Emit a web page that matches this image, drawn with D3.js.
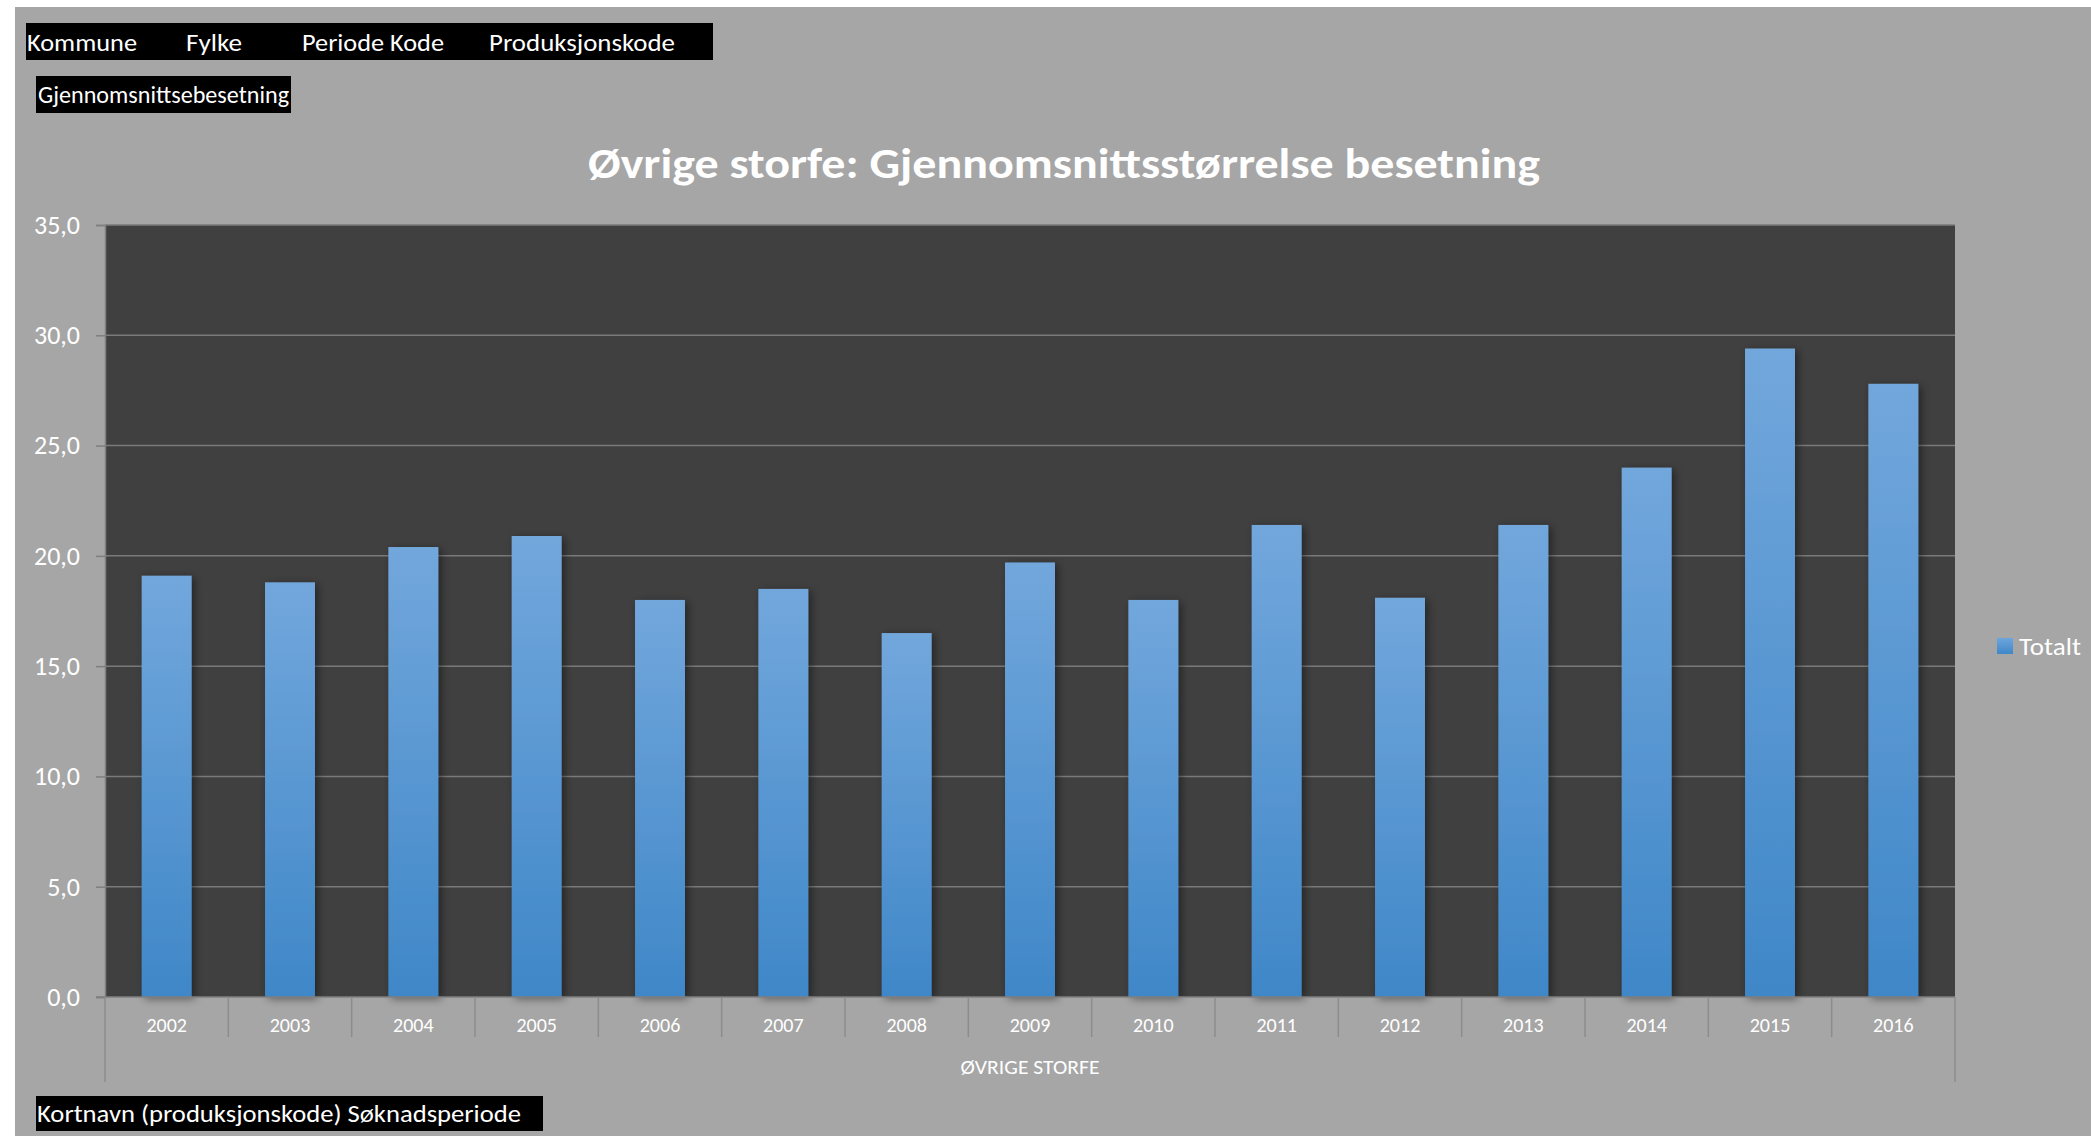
<!DOCTYPE html>
<html>
<head>
<meta charset="utf-8">
<script src="https://cdn.jsdelivr.net/npm/d3@7"></script>
<style>
  body { margin: 0; background: #ffffff; }
  svg text { font-family: Carlito, Calibri, Lato, "Noto Sans", sans-serif; }
</style>
</head>
<body>
<div id="chart"></div>
<script>
// data
var years = ["2002","2003","2004","2005","2006","2007","2008","2009","2010","2011","2012","2013","2014","2015","2016"];
var totalt = [19.1, 18.8, 20.4, 20.9, 18.0, 18.5, 16.5, 19.7, 18.0, 21.4, 18.1, 21.4, 24.0, 29.4, 27.8];
var yTicks = [0, 5, 10, 15, 20, 25, 30, 35];
var filterFields = ["Kommune", "Fylke", "Periode Kode", "Produksjonskode"];
var seriesName = "Totalt";
var groupName = "ØVRIGE STORFE";

function init() {
	var W = 2091, H = 1136;
	var left = 105, right = 1955, top = 225, bottom = 997;

	var svg = d3.select("#chart")
				.append("svg")
				.attr("width", W)
				.attr("height", H);

	var defs = svg.append("defs");
	var grad = defs.append("linearGradient")
				.attr("id", "barGrad")
				.attr("x1", 0).attr("y1", 0).attr("x2", 0).attr("y2", 1);
	grad.append("stop").attr("offset", "0%").attr("stop-color", "#72a7dc");
	grad.append("stop").attr("offset", "100%").attr("stop-color", "#3f87c8");
	var legGrad = defs.append("linearGradient")
				.attr("id", "legGrad")
				.attr("x1", 0).attr("y1", 0).attr("x2", 0).attr("y2", 1);
	legGrad.append("stop").attr("offset", "0%").attr("stop-color", "#6ea5dc");
	legGrad.append("stop").attr("offset", "100%").attr("stop-color", "#3f87c8");
	var shadow = defs.append("filter").attr("id", "shadow")
				.attr("x", "-20%").attr("y", "-5%").attr("width", "150%").attr("height", "115%");
	shadow.append("feDropShadow")
		.attr("dx", 3).attr("dy", 2)
		.attr("stdDeviation", 4)
		.attr("flood-color", "#000")
		.attr("flood-opacity", 0.45);

	//background
	svg.append("rect")
		.attr("x", 15).attr("y", 7)
		.attr("width", W - 15).attr("height", H - 7)
		.attr("fill", "#a6a6a6");

	//filter buttons at the top
	svg.append("rect")
		.attr("x", 26).attr("y", 23).attr("width", 687).attr("height", 37)
		.attr("fill", "#000");
	var fieldX = [27, 186, 302, 489];
	var fieldW = [110, 56, 142, 186];
	svg.selectAll("text.field")
		.data(filterFields)
		.enter()
		.append("text")
		.attr("class", "field")
		.attr("x", function(d, i) { return fieldX[i]; })
		.attr("y", 51)
		.attr("fill", "#fff")
		.style("font-size", "25px")
		.attr("textLength", function(d, i) { return fieldW[i]; })
		.attr("lengthAdjust", "spacingAndGlyphs")
		.text(function(d) { return d; });

	svg.append("rect")
		.attr("x", 36).attr("y", 76).attr("width", 255).attr("height", 37)
		.attr("fill", "#000");
	svg.append("text")
		.attr("x", 38).attr("y", 103)
		.attr("fill", "#fff")
		.style("font-size", "24px")
		.attr("textLength", 251)
		.attr("lengthAdjust", "spacingAndGlyphs")
		.text("Gjennomsnittsebesetning");

	//title
	svg.append("text")
		.attr("x", 588).attr("y", 178)
		.attr("fill", "#fff")
		.style("font-size", "42px")
		.style("font-weight", "bold")
		.attr("textLength", 952)
		.attr("lengthAdjust", "spacingAndGlyphs")
		.text("Øvrige storfe: Gjennomsnittsstørrelse besetning");

	//scales
	var xScale = d3.scaleBand()
				.domain(years)
				.range([left, right])
				.padding(0);
	var yScale = d3.scaleLinear()
				.domain([0, 35])
				.range([bottom, top]);

	//plot area
	svg.append("rect")
		.attr("x", left).attr("y", top)
		.attr("width", right - left).attr("height", bottom - top)
		.attr("fill", "#404040");

	//gridlines
	svg.append("g")
		.selectAll("line")
		.data(yTicks.slice(1))
		.enter()
		.append("line")
		.attr("x1", left).attr("x2", right)
		.attr("y1", function(d) { return yScale(d); })
		.attr("y2", function(d) { return yScale(d); })
		.attr("stroke", "#7a7a7a")
		.attr("stroke-width", 1.5);

	//Y axis
	var fmt = function(d) { return d3.format(".1f")(d).replace(".", ","); };
	var yAxis = d3.axisLeft(yScale)
		.tickValues(yTicks)
		.tickSize(9)
		.tickPadding(16)
		.tickFormat(fmt);
	var gy = svg.append("g")
		.attr("transform", "translate(" + left + ",0)")
		.call(yAxis);
	gy.select(".domain").attr("stroke", "#7f7f7f").attr("stroke-width", 1.5);
	gy.selectAll(".tick line").attr("stroke", "#7f7f7f").attr("stroke-width", 1.5);
	gy.selectAll(".tick text")
		.attr("fill", "#fff")
		.style("font-size", "26px")
		.style("font-family", "Carlito, Calibri, Lato, 'Noto Sans', sans-serif");

	//bars
	var barW = xScale.bandwidth() * 0.405;
	svg.append("g")
		.selectAll("rect")
		.data(totalt)
		.enter()
		.append("rect")
		.attr("x", function(d, i) { return xScale(years[i]) + (xScale.bandwidth() - barW) / 2; })
		.attr("y", function(d) { return yScale(d); })
		.attr("width", barW)
		.attr("height", function(d) { return yScale(0) - yScale(d); })
		.attr("fill", "url(#barGrad)")
		.attr("filter", "url(#shadow)");

	//X axis
	svg.append("line")
		.attr("x1", left - 9).attr("x2", right)
		.attr("y1", bottom).attr("y2", bottom)
		.attr("stroke", "#7f7f7f").attr("stroke-width", 1.5);
	var seps = years.slice(1);
	svg.append("g")
		.selectAll("line")
		.data(seps)
		.enter()
		.append("line")
		.attr("x1", function(d) { return xScale(d); })
		.attr("x2", function(d) { return xScale(d); })
		.attr("y1", bottom).attr("y2", 1037)
		.attr("stroke", "#8c8c8c").attr("stroke-width", 1.5);
	svg.append("g")
		.selectAll("line")
		.data([left, right])
		.enter()
		.append("line")
		.attr("x1", function(d) { return d; })
		.attr("x2", function(d) { return d; })
		.attr("y1", bottom).attr("y2", 1082)
		.attr("stroke", "#8c8c8c").attr("stroke-width", 1.5);

	svg.append("g")
		.selectAll("text")
		.data(years)
		.enter()
		.append("text")
		.attr("x", function(d) { return xScale(d) + xScale.bandwidth() / 2; })
		.attr("y", 1032)
		.attr("text-anchor", "middle")
		.attr("fill", "#fff")
		.style("font-size", "20px")
		.text(function(d) { return d; });

	svg.append("text")
		.attr("x", (left + right) / 2)
		.attr("y", 1074)
		.attr("text-anchor", "middle")
		.attr("fill", "#fff")
		.style("font-size", "21px")
		.attr("textLength", 139)
		.attr("lengthAdjust", "spacingAndGlyphs")
		.text(groupName);

	//legend
	svg.append("rect")
		.attr("x", 1997).attr("y", 638)
		.attr("width", 16).attr("height", 16)
		.attr("fill", "url(#legGrad)");
	svg.append("text")
		.attr("x", 2019).attr("y", 655)
		.attr("fill", "#fff")
		.style("font-size", "25px")
		.attr("textLength", 62)
		.attr("lengthAdjust", "spacingAndGlyphs")
		.text(seriesName);

	//bottom field button
	svg.append("rect")
		.attr("x", 36).attr("y", 1096).attr("width", 507).attr("height", 35)
		.attr("fill", "#000");
	svg.append("text")
		.attr("x", 37).attr("y", 1122)
		.attr("fill", "#fff")
		.style("font-size", "24px")
		.attr("textLength", 484)
		.attr("lengthAdjust", "spacingAndGlyphs")
		.text("Kortnavn (produksjonskode) Søknadsperiode");
}
window.onload = init;
</script>
</body>
</html>
